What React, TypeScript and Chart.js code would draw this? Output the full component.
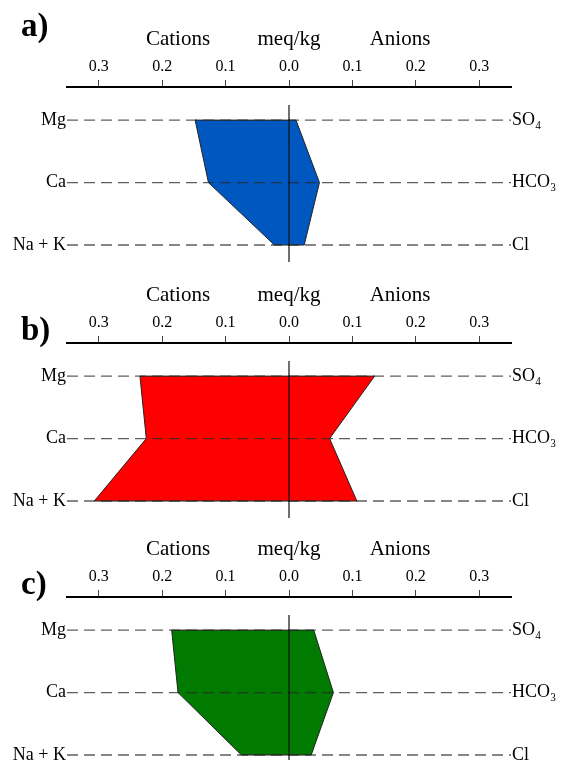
import React, { useEffect, useRef } from 'react';
import { Chart, registerables } from 'chart.js';

Chart.register(...registerables);

// ---- data ----
const cationNames = ['Mg', 'Ca', 'Na + K'];
const anionNames = ['SO₄', 'HCO₃', 'Cl'];
const rowLevels = [2, 1, 0];
const tickValues = [-0.3, -0.2, -0.1, 0, 0.1, 0.2, 0.3];
const headerTexts = ['Cations', 'meq/kg', 'Anions'];
const headerValues = [-0.175, 0, 0.175];
const panelLetters = ['a)', 'b)', 'c)'];

// values in meq/kg, order Mg, Ca, Na+K  /  SO4, HCO3, Cl
const cationsA = [0.148, 0.127, 0.023];
const anionsA = [0.011, 0.048, 0.024];
const cationsB = [0.235, 0.225, 0.307];
const anionsB = [0.135, 0.064, 0.107];
const cationsC = [0.185, 0.175, 0.075];
const anionsC = [0.039, 0.07, 0.035];

const panelColors = ['#0057BF', '#FF0000', '#007A00'];

const FONT = '"Liberation Serif", "Times New Roman", serif';

type PanelProps = {
  letter: string;
  cations: number[];
  anions: number[];
  color: string;
  letterY: number;
};

function StiffPanel({ letter, cations, anions, color, letterY }: PanelProps) {
  const ref = useRef<HTMLCanvasElement | null>(null);
  useEffect(() => {
    if (!ref.current) return;
    const polygon = [
      ...cations.map((v, i) => ({ x: -v, y: rowLevels[i] })),
      ...anions.map((v, i) => ({ x: v, y: rowLevels[i] })).reverse(),
    ];
    polygon.push({ ...polygon[0] });

    const dashSets = rowLevels.map((lv) => ({
      data: [
        { x: -0.35, y: lv },
        { x: 0.35, y: lv },
      ],
      showLine: true,
      borderColor: 'rgba(40,40,40,0.75)',
      borderWidth: 1.3,
      borderDash: [11, 6],
      pointRadius: 0,
      fill: false,
      order: 2,
    }));

    const textPlugin = {
      id: 'stiffText',
      afterDraw(chart: any) {
        const { ctx, chartArea, scales } = chart;
        const xs = scales.x;
        const ys = scales.y;
        ctx.save();
        ctx.fillStyle = '#000';
        // header
        ctx.font = `21px ${FONT}`;
        ctx.textAlign = 'center';
        ctx.textBaseline = 'middle';
        headerTexts.forEach((t, i) => {
          ctx.fillText(t, xs.getPixelForValue(headerValues[i]), chartArea.top - 48);
        });
        // letter
        ctx.font = `bold 33px ${FONT}`;
        ctx.textAlign = 'left';
        ctx.textBaseline = 'alphabetic';
        ctx.fillText(letter, 21, letterY);
        // row labels
        ctx.font = `18px ${FONT}`;
        ctx.textBaseline = 'middle';
        rowLevels.forEach((lv, i) => {
          const y = ys.getPixelForValue(lv);
          ctx.textAlign = 'right';
          ctx.fillText(cationNames[i], chartArea.left - 1, y);
          ctx.textAlign = 'left';
          ctx.fillText(anionNames[i], chartArea.right + 1, y);
        });
        ctx.restore();
      },
    };

    const chart = new Chart(ref.current, {
      type: 'scatter',
      data: {
        datasets: [
          {
            data: [
              { x: 0, y: 2.24 },
              { x: 0, y: -0.27 },
            ],
            showLine: true,
            borderColor: '#111',
            borderWidth: 1.2,
            pointRadius: 0,
            fill: false,
            order: 1,
          },
          ...dashSets,
          {
            data: polygon,
            showLine: true,
            borderColor: '#222',
            borderWidth: 1,
            backgroundColor: color,
            pointRadius: 0,
            fill: 'shape',
            tension: 0,
            order: 3,
          },
        ] as any,
      },
      options: {
        animation: false,
        responsive: false,
        events: [],
        layout: { padding: { left: 67, right: 50, top: 0, bottom: 0 } },
        plugins: { legend: { display: false }, tooltip: { enabled: false } },
        scales: {
          x: {
            type: 'linear',
            position: 'top',
            min: -0.35,
            max: 0.35,
            afterBuildTicks: (s: any) => {
              s.ticks = tickValues.map((v) => ({ value: v }));
            },
            afterFit: (s: any) => {
              s.height = 87;
            },
            ticks: {
              autoSkip: false,
              maxRotation: 0,
              padding: 4,
              color: '#000',
              font: { family: FONT, size: 16 },
              callback: (v: any) => Math.abs(Number(v)).toFixed(1),
            },
            grid: {
              display: true,
              drawOnChartArea: false,
              drawTicks: true,
              tickLength: 7,
              color: '#444',
              lineWidth: 1,
            },
            border: { display: true, color: '#000', width: 2 },
          },
          y: {
            type: 'linear',
            display: false,
            min: -0.4,
            max: 2.53,
          },
        },
      } as any,
      plugins: [textPlugin],
    });
    return () => chart.destroy();
  }, [letter, cations, anions, color, letterY]);

  return <canvas ref={ref} width={561} height={270} style={{ display: 'block' }} />;
}

export default function App() {
  const panels = [
    { cations: cationsA, anions: anionsA, top: 0, letterY: 36 },
    { cations: cationsB, anions: anionsB, top: 256, letterY: 84 },
    { cations: cationsC, anions: anionsC, top: 510, letterY: 84 },
  ];
  return (
    <div
      style={{
        position: 'fixed',
        left: 0,
        top: 0,
        width: 561,
        height: 760,
        overflow: 'hidden',
        background: '#fff',
      }}
    >
      {panels.map((p, i) => (
        <div key={i} style={{ position: 'absolute', left: 0, top: p.top, width: 561, height: 270 }}>
          <StiffPanel
            letter={panelLetters[i]}
            cations={p.cations}
            anions={p.anions}
            color={panelColors[i]}
            letterY={p.letterY}
          />
        </div>
      ))}
    </div>
  );
}
